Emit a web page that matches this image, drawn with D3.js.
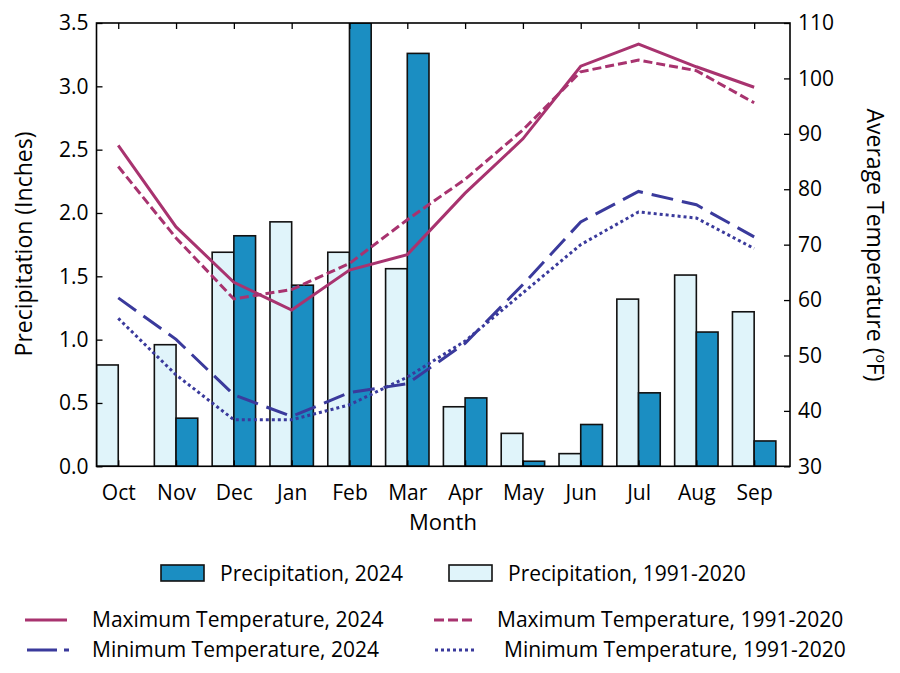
<!DOCTYPE html>
<html><head><meta charset="utf-8">
<script src="https://cdn.jsdelivr.net/npm/d3@7"></script>
<style>
body{margin:0;background:#fff;}
text{font-family:"Open Sans","Noto Sans",sans-serif;fill:#000;}
</style></head>
<body>
<svg id="chart" width="900" height="673"></svg>
<script>
const months = ["Oct","Nov","Dec","Jan","Feb","Mar","Apr","May","Jun","Jul","Aug","Sep"];
const precip2024 = [0.00,0.38,1.82,1.43,3.50,3.26,0.54,0.04,0.33,0.58,1.06,0.20];
const precipNormal = [0.80,0.96,1.69,1.93,1.69,1.56,0.47,0.26,0.10,1.32,1.51,1.22];
const maxT2024 = [87.9,73.2,63.2,58.2,65.4,68.2,79.3,89.1,102.2,106.2,102.1,98.4];
const maxTNormal = [84.1,71.2,60.2,61.9,66.6,74.5,81.8,90.7,101.2,103.3,101.4,95.6];
const minT2024 = [60.4,52.9,42.9,39.0,43.3,44.9,52.2,62.8,74.1,79.6,77.2,71.4];
const minTNormal = [56.7,46.5,38.4,38.4,41.1,46.1,52.6,61.3,70.0,75.9,74.8,69.3];
const precipTicks = [0,0.5,1.0,1.5,2.0,2.5,3.0,3.5];
const tempTicks = [30,40,50,60,70,80,90,100,110];

const svg = d3.select("#chart");
const L = 96.5, R = 790, T = 23, B = 466.3;
const x = d3.scaleLinear().domain([-0.376, 11.62]).range([L, R]);
const yP = d3.scaleLinear().domain([0, 3.5]).range([B, T]);
const yT = d3.scaleLinear().domain([30, 110]).range([B, T]);
const barW = 21.7;
const FS = 21;

const magenta = "#A8336F", blue = "#3A3A9C";
const fill2024 = "#1B8EC2", fillNorm = "#E0F4FA";

const g = svg.append("g");
svg.append("defs").append("clipPath").attr("id","clip")
  .append("rect").attr("x",L).attr("y",T).attr("width",R-L).attr("height",B-T);

const plot = g.append("g").attr("clip-path","url(#clip)");
plot.selectAll(".bn").data(precipNormal).enter().append("rect")
  .attr("x",(d,i)=>x(i)-barW).attr("width",barW)
  .attr("y",d=>yP(d)).attr("height",d=>yP(0)-yP(d))
  .attr("fill",fillNorm).attr("stroke","#111").attr("stroke-width",1.6);
plot.selectAll(".b24").data(precip2024).enter().append("rect")
  .attr("x",(d,i)=>x(i)).attr("width",barW)
  .attr("y",d=>yP(d)).attr("height",d=>yP(0)-yP(d))
  .attr("fill",fill2024).attr("stroke","#111").attr("stroke-width",1.6)
  .attr("display",d=>d>0?null:"none");

const line = d3.line().x((d,i)=>x(i)).y(d=>yT(d));
const series = [
  {data:maxT2024, color:magenta, dash:null, ldash:null},
  {data:maxTNormal, color:magenta, dash:"9,4", ldash:"10,4"},
  {data:minT2024, color:blue, dash:"22,9", ldash:"30,7"},
  {data:minTNormal, color:blue, dash:"3,3", ldash:"3,3"}
];
series.forEach(s=>{
  plot.append("path").attr("d",line(s.data)).attr("fill","none")
    .attr("stroke",s.color).attr("stroke-width",3)
    .attr("stroke-dasharray",s.dash);
});

g.append("rect").attr("x",L).attr("y",T).attr("width",R-L).attr("height",B-T)
  .attr("fill","none").attr("stroke","#000").attr("stroke-width",1.6);

const leftAxis = g.append("g").attr("transform",`translate(${L},0)`)
  .call(d3.axisLeft(yP).tickValues(precipTicks).tickFormat(d3.format(".1f")).tickSizeInner(-6).tickSizeOuter(0).tickPadding(8));
const rightAxis = g.append("g").attr("transform",`translate(${R},0)`)
  .call(d3.axisRight(yT).tickValues(tempTicks).tickFormat(d3.format("d")).tickSizeInner(-6).tickSizeOuter(0).tickPadding(8));
const topAxis = g.append("g").attr("transform",`translate(0,${T})`)
  .call(d3.axisTop(x).tickValues(d3.range(12)).tickFormat("").tickSizeInner(-6).tickSizeOuter(0));
const bottomAxis = g.append("g").attr("transform",`translate(0,${B})`)
  .call(d3.axisBottom(x).tickValues(d3.range(12)).tickFormat(i=>months[i]).tickSizeInner(-6).tickSizeOuter(0).tickPadding(19));
[leftAxis,rightAxis,topAxis,bottomAxis].forEach(a=>{
  a.select(".domain").remove();
  a.selectAll("line").attr("stroke","#000").attr("stroke-width",1.3);
  a.selectAll("text").attr("font-size",FS).attr("font-family",'"Open Sans",sans-serif').attr("fill","#000");
});

svg.append("text").attr("transform","translate(32,244) rotate(-90)")
  .attr("text-anchor","middle").attr("font-size",23).text("Precipitation (Inches)");
const rt = svg.append("text").attr("transform","translate(867,245) rotate(90)")
  .attr("text-anchor","middle").attr("font-size",23);
rt.append("tspan").text("Average Temperature (");
rt.append("tspan").attr("font-size",14).attr("dy",-9).text("o");
rt.append("tspan").attr("dy",9).text("F)");
svg.append("text").attr("x",443).attr("y",530).attr("text-anchor","middle")
  .attr("font-size",22).text("Month");

const lg = svg.append("g");
const barLegend = [
  {label:"Precipitation, 2024", fill:fill2024, x:161, tx:220},
  {label:"Precipitation, 1991-2020", fill:fillNorm, x:449, tx:508}
];
barLegend.forEach(b=>{
  lg.append("rect").attr("x",b.x).attr("y",565).attr("width",43).attr("height",16)
    .attr("fill",b.fill).attr("stroke","#111").attr("stroke-width",1.6);
  lg.append("text").attr("x",b.tx).attr("y",581).attr("font-size",FS).text(b.label);
});
const lineLegend = [
  {label:"Maximum Temperature, 2024", s:series[0], lx:25, tx:92, y:620},
  {label:"Maximum Temperature, 1991-2020", s:series[1], lx:434, tx:497, y:620},
  {label:"Minimum Temperature, 2024", s:series[2], lx:27, tx:92, y:650},
  {label:"Minimum Temperature, 1991-2020", s:series[3], lx:435, tx:504, y:650}
];
lineLegend.forEach(l=>{
  lg.append("line").attr("x1",l.lx).attr("x2",l.lx+42).attr("y1",l.y).attr("y2",l.y)
    .attr("stroke",l.s.color).attr("stroke-width",3).attr("stroke-dasharray",l.s.ldash);
  lg.append("text").attr("x",l.tx).attr("y",l.y+7).attr("font-size",FS).text(l.label);
});
</script>
</body></html>
